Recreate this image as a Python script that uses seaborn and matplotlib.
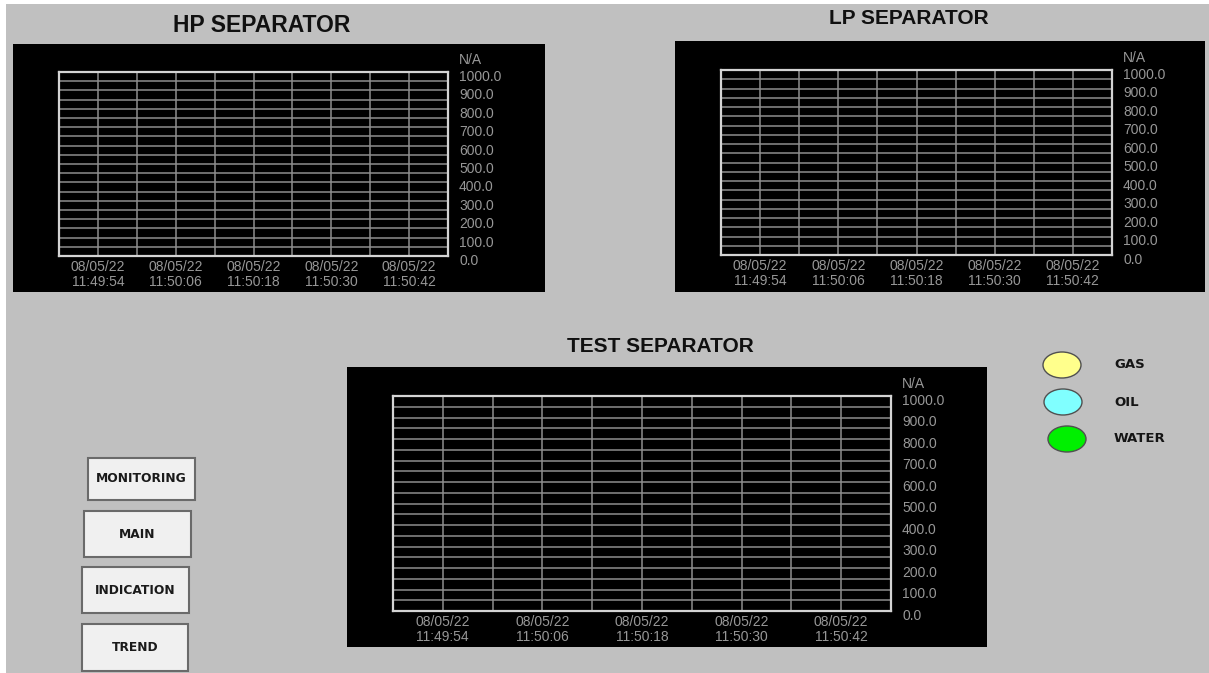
import matplotlib
matplotlib.use("Agg")
import matplotlib.pyplot as plt
from matplotlib.patches import Rectangle, Ellipse
from matplotlib.ticker import MultipleLocator, FixedLocator
from matplotlib.transforms import ScaledTranslation
import seaborn as sns
import pandas as pd

# trend data (the trends are empty on the screen)
date_label = "08/05/22"
window_start = "11:49:48"
window_end = "11:50:48"
time_labels = ["11:49:54", "11:50:06", "11:50:18", "11:50:30", "11:50:42"]
y_ticks = [0, 100, 200, 300, 400, 500, 600, 700, 800, 900, 1000]
unit_label = "N/A"

series_names = ["GAS", "OIL", "WATER"]
series_colors = ["#ffff8c", "#80ffff", "#00f000"]
sample_times = []
gas_values = []
oil_values = []
water_values = []

buttons = ["MONITORING", "MAIN", "INDICATION", "TREND"]

W, H = 1209, 673
sns.set_style("dark")
plt.rcParams["font.family"] = ["Liberation Sans", "DejaVu Sans"]

fig = plt.figure(figsize=(W / 100, H / 100), dpi=100, facecolor="white")


def box(x0, y0, x1, y1):
    return [x0 / W, 1 - y1 / H, (x1 - x0) / W, (y1 - y0) / H]


# overlay in pixel coordinates for the screen furniture
bg = fig.add_axes([0, 0, 1, 1])
bg.set_xlim(0, W)
bg.set_ylim(H, 0)
bg.axis("off")
bg.add_patch(Rectangle((6, 4), W - 6, H - 4, facecolor="#c0c0c0", edgecolor="none"))

start = pd.to_timedelta(window_start)
span = (pd.to_timedelta(window_end) - start).total_seconds()
tick_pos = [(pd.to_timedelta(t) - start).total_seconds() for t in time_labels]

trend_df = pd.DataFrame({
    "time": sample_times * len(series_names),
    "value": gas_values + oil_values + water_values,
    "series": [n for n in series_names for _ in sample_times],
})


def trend_panel(panel, plot, title, title_xy, title_size):
    x0, y0, x1, y1 = panel
    bg.add_patch(Rectangle((x0, y0), x1 - x0, y1 - y0, facecolor="black", edgecolor="none"))
    bg.text(title_xy[0], title_xy[1], title, ha="center", va="center",
            fontsize=title_size, fontweight="bold", color="#101010")

    ax = fig.add_axes(box(*plot))
    ax.set_facecolor("black")
    if len(trend_df):
        sns.lineplot(data=trend_df, x="time", y="value", hue="series",
                     palette=dict(zip(series_names, series_colors)), legend=False, ax=ax)
    ax.set_xlim(0, span)
    ax.set_ylim(y_ticks[0], y_ticks[-1])
    ax.xaxis.set_major_locator(FixedLocator(tick_pos))
    ax.xaxis.set_minor_locator(MultipleLocator(span / 10))
    ax.set_xticklabels([f"{date_label}\n{t}" for t in time_labels])
    ax.yaxis.tick_right()
    ax.set_yticks(y_ticks)
    ax.set_yticklabels([f"{v:.1f}" for v in y_ticks])
    ax.yaxis.set_minor_locator(MultipleLocator(50))
    ax.grid(which="both", color="#8e8e8e", linewidth=1.1)
    ax.tick_params(which="both", length=0, colors="#979797", labelsize=10)
    ax.tick_params(axis="y", pad=8, labelleft=False, labelright=True)
    ax.tick_params(axis="x", pad=3)
    shift = ScaledTranslation(0, -2.5 / 72, fig.dpi_scale_trans)
    for lbl in ax.get_yticklabels():
        lbl.set_transform(lbl.get_transform() + shift)
    for lbl in ax.get_xticklabels():
        lbl.set_linespacing(1.05)
    for sp in ax.spines.values():
        sp.set_visible(True)
        sp.set_color("#d4d4d4")
        sp.set_linewidth(1.6)
    ax.set_xlabel("")
    ax.set_ylabel("")
    ax.annotate(unit_label, xy=(1, 1), xycoords="axes fraction", xytext=(8, 9),
                textcoords="offset points", color="#979797", fontsize=10,
                ha="left", va="center")
    return ax


trend_panel((13, 44, 545, 292), (59, 72, 448, 256), "HP SEPARATOR", (262, 25), 16.5)
trend_panel((675, 41, 1205, 292), (721, 70, 1112, 255), "LP SEPARATOR", (909, 19), 15)
trend_panel((347, 367, 987, 647), (393, 396, 891, 611), "TEST SEPARATOR", (660, 347), 15)

# legend
legend_xy = [(1062, 365), (1063, 402), (1067, 439)]
for name, color, (cx, cy) in zip(series_names, series_colors, legend_xy):
    bg.add_patch(Ellipse((cx, cy), 38, 26, facecolor=color, edgecolor="#505050", linewidth=1))
    bg.text(1114, cy, name, ha="left", va="center", fontsize=9.5,
            fontweight="heavy", color="#151515", family="DejaVu Sans")

# navigation buttons
button_boxes = [(88, 458, 195, 500), (84, 511, 191, 557), (82, 567, 189, 613), (82, 624, 188, 671)]
for label, (x0, y0, x1, y1) in zip(buttons, button_boxes):
    bg.add_patch(Rectangle((x0, y0), x1 - x0, y1 - y0, facecolor="#f0f0f0",
                           edgecolor="#6a6a6a", linewidth=1.5))
    bg.text((x0 + x1) / 2, (y0 + y1) / 2, label, ha="center", va="center",
            fontsize=8.8, fontweight="heavy", color="#1a1a1a", family="DejaVu Sans")

fig.savefig("out.png", dpi=100, facecolor=fig.get_facecolor())
